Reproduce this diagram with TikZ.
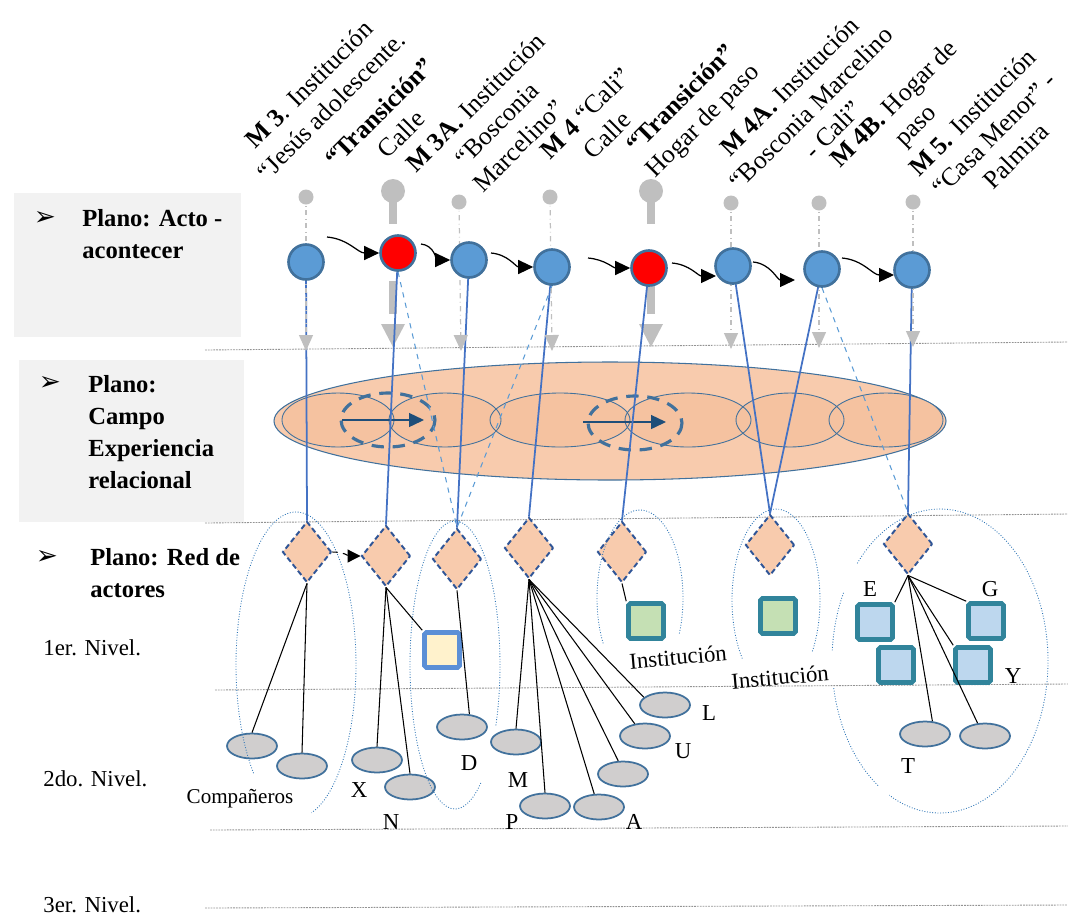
\documentclass[tikz,border=0pt]{standalone}
\usepackage{fontspec}
\setmainfont{Liberation Serif}
\newfontfamily\symfont{DejaVu Sans}
\usetikzlibrary{positioning,arrows.meta,calc,shapes.geometric,backgrounds}
\definecolor{cBlue}{HTML}{5B9BD5}
\definecolor{cBlueD}{HTML}{41719C}
\definecolor{cLink}{HTML}{4472C4}
\definecolor{cRed}{HTML}{FF0000}
\definecolor{cPin}{HTML}{BFBFBF}
\definecolor{cPeach}{HTML}{F8CBAD}
\definecolor{cPeachIn}{HTML}{F5C2A0}
\definecolor{cNavy}{HTML}{2F5597}
\definecolor{cArrow}{HTML}{1F4E79}
\definecolor{cGroup}{HTML}{2E75B6}
\definecolor{cActor}{HTML}{D0CECE}
\definecolor{cPanel}{HTML}{F2F2F2}
\definecolor{cTeal}{HTML}{31849B}
\definecolor{cGreen}{HTML}{C5E0B4}
\definecolor{cSky}{HTML}{BDD7EE}
\definecolor{cCream}{HTML}{FFF2CC}
\definecolor{cSqBlue}{HTML}{5B8FD6}
\tikzset{
  acto/.style={circle, draw=cBlueD, fill=cBlue, line width=1.5pt,
               minimum size=0.7cm, inner sep=0pt},
  hito/.style={acto, fill=cRed},
  pindot/.style={circle, fill=cPin, minimum size=0.3cm, inner sep=0pt},
  pinbig/.style={circle, fill=cPin, minimum size=0.48cm, inner sep=0pt},
  pinline/.style={draw=cPin, dash dot, line width=0.7pt,
                  -{Triangle[length=0.32cm, width=0.28cm]}},
  pinstem/.style={draw=cPin, line width=4pt},
  nodo/.style={diamond, draw=cNavy, fill=cPeach, line width=1.1pt,
               dash pattern=on 3pt off 1.8pt, minimum width=0.98cm,
               minimum height=1.22cm, inner sep=0pt},
  actor/.style={ellipse, draw=cBlueD, fill=cActor, line width=1pt,
                minimum width=1.0cm, minimum height=0.5cm, inner sep=0pt},
  sq/.style={rectangle, rounded corners=1pt, line width=2.6pt,
             minimum size=0.7cm, inner sep=0pt},
  inst/.style={sq, draw=cTeal, fill=cGreen},
  par/.style={sq, draw=cTeal, fill=cSky},
  fam/.style={sq, draw=cSqBlue, fill=cCream},
  enlace/.style={draw=cLink, line width=1pt},
  enlaced/.style={draw=cBlue, dashed, line width=0.6pt},
  rama/.style={draw=black, line width=0.6pt},
  onda/.style={draw=black, line width=0.7pt, -{Triangle[length=0.3cm, width=0.28cm]}},
  grupo/.style={draw=cGroup, densely dotted, line width=0.5pt},
  nivel/.style={draw=gray!85, dash pattern=on 1pt off 0.6pt, line width=0.5pt},
  campo/.style={draw=cBlueD, line width=0.6pt},
  vuelta/.style={draw=cBlueD, line width=1.8pt, dash pattern=on 7pt off 5pt},
  paso/.style={draw=cArrow, line width=0.8pt, -{Triangle[length=0.3cm, width=0.28cm]}},
  mlbl/.style={rotate=45, align=center, font=\fontsize{14.6}{17.5}\selectfont},
  plano/.style={anchor=west, align=left, inner sep=0pt,
                font=\fontsize{14}{18.3}\selectfont\bfseries},
  bala/.style={inner sep=0pt, font=\symfont\fontsize{15}{15}\selectfont},
  nivtxt/.style={anchor=west, inner sep=0pt, font=\fontsize{13}{13}\selectfont},
  letra/.style={inner sep=0pt, font=\fontsize{13}{13}\selectfont},
}
% gray pin with stem and block tip over a transition node
\newcommand{\PinHito}[2]{%
  \node[pinbig] (#2) at (#1,191) {};
  \draw[pinstem] (#2.center) -- (#1,224);
  \draw[pinstem] (#1,281) -- (#1,314);
  \fill[cPin] (#1-12,324) -- (#1+12,324) -- (#1,347) -- cycle;}
\newcommand{\GrupoArc}[6]{%
  \draw[grupo] (#1,#2) ++(#5:#3 and #4)
    arc[start angle=#5, end angle=#6, x radius=#3, y radius=#4];}

\begin{document}
\begin{tikzpicture}[x=0.02cm, y=-0.02cm]
  \useasboundingbox (0,0) rectangle (1068,917);

  % --- panels, level lines, relational field ---
  \begin{scope}[on background layer]
    \fill[cPanel] (14,193) rectangle (241,337);
    \fill[cPanel] (19,360) rectangle (244,522);
    \draw[nivel] (205,350) -- (1068,342);
    \draw[nivel] (205,523) -- (1068,514);
    \draw[nivel] (215,690) -- (1068,684);
    \draw[nivel] (210,830) -- (1068,826);
    \draw[nivel] (205,908) -- (1068,905);
    \draw[campo, fill=cPeach] (610,421) ellipse[x radius=336, y radius=59];
    \foreach \cx/\rx in {338/56, 445/56, 560/70, 688/63, 790/54, 886/57}
      \fill[cPeachIn] (\cx,420) ellipse[x radius=\rx, y radius=27];
    \foreach \cx/\rx in {338/56, 445/56, 560/70, 688/63, 790/54, 886/57}
      \draw[campo, line width=0.5pt] (\cx,420) ellipse[x radius=\rx, y radius=27];
    \draw[vuelta] (388,420) ellipse[x radius=47, y radius=27];
    \draw[vuelta] (635,423) ellipse[x radius=47, y radius=27];
    \coordinate (f1a) at (342,420);
    \coordinate (f1b) at (424,420);
    \coordinate (f2a) at (583,422);
    \coordinate (f2b) at (666,422);
    \draw[paso] (f1a) -- (f1b);
    \draw[paso] (f2a) -- (f2b);
  \end{scope}

  % --- side labels ---
  \node[bala] (bu1) at (45,218) {➢};
  \node[plano] (pl1) at (82,234) {Plano: Acto -\\acontecer};
  \node[bala] (bu2) at (50,383) {➢};
  \node[plano] (pl2) at (88,432) {Plano:\\Campo\\Experiencia\\relacional};
  \node[bala] (bu3) at (47,557) {➢};
  \node[plano] (pl3) at (90,573) {Plano: Red de\\actores};
  \node[nivtxt] (nv1) at (43,648) {1er. Nivel.};
  \node[nivtxt] (nv2) at (43,779) {2do. Nivel.};
  \node[nivtxt] (nv3) at (43,905) {3er. Nivel.};

  % --- moments (top labels) ---
  \node[mlbl] (m1) at (320,95) {\textbf{M 3}. Institución\\“Jesús adolescente.};
  \node[mlbl] (m2) at (390,123) {\textbf{“Transición”}\\Calle};
  \node[mlbl] (m3) at (497,124) {\textbf{M 3A.} Institución\\“Bosconia\\Marcelino”};
  \node[mlbl] (m4) at (596,124) {\textbf{M 4} “Cali”\\Calle};
  \node[mlbl] (m5) at (693,111) {\textbf{“Transición”}\\Hogar de paso};
  \node[mlbl] (m6) at (811,108) {\textbf{M 4A.} Institución\\“Bosconia Marcelino\\- Cali”};
  \node[mlbl] (m7) at (906,116) {\textbf{M 4B.} Hogar de\\paso};
  \node[mlbl] (m8) at (994,134) {\textbf{M 5.} Institución\\“Casa Menor” -\\Palmira};

  % --- act nodes ---
  \node[acto] (a1) at (306,262) {};
  \node[hito] (a2) at (398,253) {};
  \node[acto] (a3) at (469,260) {};
  \node[acto] (a4) at (552,267) {};
  \node[hito] (a5) at (649,268) {};
  \node[acto] (a6) at (733,266) {};
  \node[acto] (a7) at (822,269) {};
  \node[acto] (a8) at (912,270) {};

  % --- pins ---
  \node[pindot] (p1) at (306,197) {};
  \node[pindot] (p3) at (459,202) {};
  \node[pindot] (p4) at (550,197) {};
  \node[pindot] (p6) at (731,203) {};
  \node[pindot] (p7) at (819,203) {};
  \node[pindot] (p8) at (913,202) {};
  \begin{scope}[on background layer]
    \PinHito{393}{p2}
    \PinHito{651}{p5}
  \end{scope}

  % --- actor network nodes ---
  \node[nodo] (d1) at (307,552) {};
  \node[nodo] (d2) at (386,556) {};
  \node[nodo] (d3) at (457,559) {};
  \node[nodo] (d4) at (529,548) {};
  \node[nodo] (d5) at (622,552) {};
  \node[nodo] (d6) at (770,545) {};
  \node[nodo] (d7) at (908,544) {};

  \node[fam] (f1) at (442,650) {};
  \node[inst] (i1) at (646,621) {};
  \node[inst] (i2) at (778,616) {};
  \node[par] (e1) at (875,622) {};
  \node[par] (e2) at (986,621) {};
  \node[par] (e3) at (896,665) {};
  \node[par] (e4) at (973,665) {};

  \foreach \nm/\px/\py in {o1/252/746, o2/302/766, oX/377/760, oN/410/787,
      oD/462/727, oM/516/742, oP/545/806, oA/599/807, oQ/623/774,
      oU/645/736, oL/665/705, oT/925/734, oZ/985/736}
    \node[actor] (\nm) at (\px,\py) {};

  % --- letters ---
  \node[letra] (lX) at (359,790) {X};
  \node[letra] (lN) at (391,822) {N};
  \node[letra] (lD) at (469,763) {D};
  \node[letra] (lM) at (518,780) {M};
  \node[letra] (lP) at (512,822) {P};
  \node[letra] (lA) at (634,822) {A};
  \node[letra] (lU) at (683,751) {U};
  \node[letra] (lL) at (709,713) {L};
  \node[letra] (lT) at (908,766) {T};
  \node[letra] (lE) at (870,589) {E};
  \node[letra] (lG) at (990,589) {G};
  \node[letra] (lY) at (1013,676) {Y};
  \node[letra, font=\fontsize{12}{12}\selectfont] (lC) at (240,799) {Compañeros};
  \node[letra, rotate=5] (lI1) at (678,657) {Institución};
  \node[letra, rotate=5] (lI2) at (780,677) {Institución};

  % --- group outlines ---
  \GrupoArc{296}{665}{60}{153}{135}{435}
  \GrupoArc{455}{665}{45}{144}{55}{385}
  \GrupoArc{640}{598}{43}{88}{149}{384}
  \GrupoArc{776}{600}{44}{91}{140}{395}
  \GrupoArc{940}{661}{108}{152}{220}{478}
  \GrupoArc{940}{661}{108}{152}{184}{207}
  \GrupoArc{940}{661}{108}{152}{125}{170}

  % --- links between planes ---
  \begin{scope}[on background layer]
    \foreach \a/\d in {a1/d1, a2/d2, a3/d3, a4/d4, a5/d5, a6/d6, a7/d6, a8/d7}
      \draw[enlace] (\a.center) -- (\d.north);
    \draw[enlaced] (a2.south) -- (d3.north);
    \draw[enlaced] (a4.south) -- (d3.north);
    \draw[enlaced] (a7.south) -- (d7.north);
    \foreach \i/\x/\y in {1/306/351, 3/461/351, 4/552/351, 6/731/349, 7/819/348, 8/913/347} {
      \coordinate (q\i) at (\x,\y);
      \draw[pinline] (p\i.center) -- (q\i);
    }
  \end{scope}

  % --- sequence of acts ---
  \draw[onda] ($(a1)+(21,-25)$) to[out=-5,in=180] (a2.west);
  \draw[onda] ($(a2)+(23,-9)$) to[out=-5,in=180] (a3.west);
  \draw[onda] ($(a3)+(22,-7)$) to[out=-5,in=180] (a4.west);
  \draw[onda] ($(a4)+(36,-9)$) to[out=-5,in=180] (a5.west);
  \draw[onda] ($(a5)+(23,-5)$) to[out=-5,in=180] ($(a6)+(-17,10)$);
  \draw[onda] ($(a6)+(20,-4)$) to[out=-5,in=180] ($(a7)+(-27,11)$);
  \draw[onda] ($(a7)+(20,-11)$) to[out=-5,in=180] ($(a8)+(-18,5)$);
  \draw[rama, dashed, -{Triangle[length=0.26cm, width=0.26cm]}]
    (d1.east) to[out=0,in=180] (d2.west);

  % --- actor branches ---
  \foreach \t in {o1.north, o2.north} \draw[rama] (d1.south) -- (\t);
  \foreach \t in {oX.north, oN.north, f1.north west} \draw[rama] (d2.south) -- (\t);
  \draw[rama] (d3.south) -- (oD.60);
  \foreach \t in {oM.north, oP.north, oA.110, oQ.110, oU.130, oL.160}
    \draw[rama] (d4.south) -- (\t);
  \draw[rama] (d5.south) -- (i1.north west);
  \foreach \t in {e1.north east, e2.north west, e4.north west, oT.60, oZ.120}
    \draw[rama] (d7.south) -- (\t);
\end{tikzpicture}
\end{document}
